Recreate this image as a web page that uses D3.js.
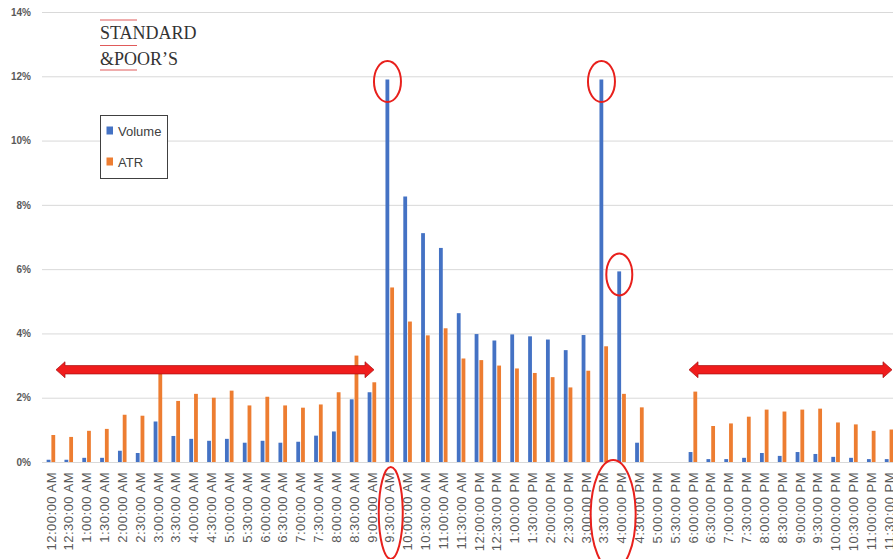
<!DOCTYPE html>
<html>
<head>
<meta charset="utf-8">
<script src="https://cdn.jsdelivr.net/npm/d3@7"></script>
<style>
  body { margin: 0; background: #fff; }
  svg { display: block; }
</style>
</head>
<body>
<div id="chart"></div>
<script>
// half hour slots over one day
var categories = [
  '12:00:00 AM', '12:30:00 AM', '1:00:00 AM', '1:30:00 AM', '2:00:00 AM', '2:30:00 AM',
  '3:00:00 AM', '3:30:00 AM', '4:00:00 AM', '4:30:00 AM', '5:00:00 AM', '5:30:00 AM',
  '6:00:00 AM', '6:30:00 AM', '7:00:00 AM', '7:30:00 AM', '8:00:00 AM', '8:30:00 AM',
  '9:00:00 AM', '9:30:00 AM', '10:00:00 AM', '10:30:00 AM', '11:00:00 AM', '11:30:00 AM',
  '12:00:00 PM', '12:30:00 PM', '1:00:00 PM', '1:30:00 PM', '2:00:00 PM', '2:30:00 PM',
  '3:00:00 PM', '3:30:00 PM', '4:00:00 PM', '4:30:00 PM', '5:00:00 PM', '5:30:00 PM',
  '6:00:00 PM', '6:30:00 PM', '7:00:00 PM', '7:30:00 PM', '8:00:00 PM', '8:30:00 PM',
  '9:00:00 PM', '9:30:00 PM', '10:00:00 PM', '10:30:00 PM', '11:00:00 PM', '11:30:00 PM'
]

// percent of daily total
var volume = [
  0.07, 0.07, 0.13, 0.13, 0.35, 0.28, 1.26, 0.81, 0.72, 0.66,
  0.72, 0.60, 0.66, 0.60, 0.63, 0.82, 0.95, 1.95, 2.17, 11.9,
  8.26, 7.12, 6.66, 4.63, 3.98, 3.78, 3.97, 3.91, 3.81, 3.48,
  3.95, 11.9, 5.93, 0.60, null, null, 0.31, 0.09, 0.09, 0.13,
  0.28, 0.19, 0.31, 0.25, 0.16, 0.13, 0.09, 0.09
]
var atr = [
  0.84, 0.78, 0.97, 1.03, 1.47, 1.44, 2.80, 1.90, 2.12, 2.00,
  2.22, 1.76, 2.03, 1.76, 1.69, 1.79, 2.17, 3.31, 2.48, 5.43,
  4.37, 3.94, 4.16, 3.22, 3.17, 3.00, 2.91, 2.77, 2.64, 2.32,
  2.84, 3.60, 2.12, 1.70, null, null, 2.19, 1.12, 1.20, 1.41,
  1.63, 1.57, 1.63, 1.66, 1.23, 1.17, 0.97, 1.01
]
var seriesNames = ['Volume', 'ATR']
var yTicks = [0, 2, 4, 6, 8, 10, 12, 14]

var width = 893
var height = 559
var colors = { 'Volume': '#4472c4', 'ATR': '#ed7d31' }

var svg = d3.select('#chart')
  .append('svg')
  .attr('width', width)
  .attr('height', height)

// the last slot runs past the right edge, as in the original picture
var x = d3.scaleBand()
  .domain(categories)
  .range([42, 898])
  .paddingInner(0.52)
  .paddingOuter(0.26)

var x1 = d3.scaleBand()
  .domain(seriesNames)
  .range([0, x.bandwidth()])
  .paddingInner(0.2)

var y = d3.scaleLinear()
  .domain([0, 14])
  .range([462, 12])

// gridlines
svg.append('g')
  .selectAll('line')
  .data(yTicks)
  .enter()
  .append('line')
  .attr('x1', 42)
  .attr('x2', width)
  .attr('y1', function (d) { return y(d) + 0.5 })
  .attr('y2', function (d) { return y(d) + 0.5 })
  .attr('stroke', '#d9d9d9')
  .attr('stroke-width', 1)

// y axis labels
var yAxis = d3.axisLeft(y)
  .tickValues(yTicks)
  .tickSize(0)
  .tickPadding(0)
  .tickFormat(function (d) { return d + '%' })

var gy = svg.append('g')
  .attr('transform', 'translate(31,0)')
  .call(yAxis)
gy.select('.domain').remove()
gy.selectAll('text')
  .attr('fill', '#595959')
  .style('font-family', 'Liberation Sans, Arial, sans-serif')
  .style('font-size', '10px')
  .style('font-weight', 'bold')

// x axis labels, rotated
var xAxis = d3.axisBottom(x).tickSize(0)
var gx = svg.append('g')
  .attr('transform', 'translate(0,' + y(0) + ')')
  .call(xAxis)
gx.select('.domain').remove()
gx.selectAll('text')
  .attr('transform', 'rotate(-90)')
  .attr('x', -10)
  .attr('y', 0)
  .attr('dy', '0.36em')
  .style('text-anchor', 'end')
  .attr('fill', '#595959')
  .style('font-family', 'Liberation Sans, Arial, sans-serif')
  .style('font-size', '13px')
  .style('letter-spacing', '0.5px')

// bars
var rows = categories.map(function (c, i) {
  return { cat: c, values: [{ key: 'Volume', value: volume[i] }, { key: 'ATR', value: atr[i] }] }
})

svg.append('g')
  .selectAll('g')
  .data(rows)
  .enter()
  .append('g')
  .attr('transform', function (d) { return 'translate(' + x(d.cat) + ',0)' })
  .selectAll('rect')
  .data(function (d) { return d.values.filter(function (v) { return v.value != null }) })
  .enter()
  .append('rect')
  .attr('x', function (d) { return x1(d.key) })
  .attr('width', x1.bandwidth())
  .attr('y', function (d) { return y(d.value) })
  .attr('height', function (d) { return y(0) - y(d.value) })
  .attr('fill', function (d) { return colors[d.key] })

// logo
var logo = svg.append('g').attr('transform', 'translate(100,0)')
logo.selectAll('line')
  .data([20, 45.5, 70])
  .enter()
  .append('line')
  .attr('x1', 0)
  .attr('x2', 37)
  .attr('y1', function (d) { return d })
  .attr('y2', function (d) { return d })
  .attr('stroke', '#e05a5a')
  .attr('stroke-width', 1)
logo.append('text')
  .attr('x', 0)
  .attr('y', 39)
  .text('STANDARD')
  .attr('fill', '#333')
  .style('font-family', 'Liberation Serif, Times New Roman, serif')
  .style('font-size', '18px')
logo.append('text')
  .attr('x', 0)
  .attr('y', 65)
  .text('&POOR\u2019S')
  .attr('fill', '#333')
  .style('font-family', 'Liberation Serif, Times New Roman, serif')
  .style('font-size', '18px')

// legend
var legend = svg.append('g').attr('transform', 'translate(100.5,115.5)')
legend.append('rect')
  .attr('width', 67)
  .attr('height', 63)
  .attr('fill', '#fff')
  .attr('stroke', '#404040')
  .attr('stroke-width', 1)
var items = legend.selectAll('.item')
  .data(seriesNames)
  .enter()
  .append('g')
  .attr('class', 'item')
  .attr('transform', function (d, i) { return 'translate(6,' + (11 + i * 31) + ')' })
items.append('rect')
  .attr('width', 6.5)
  .attr('height', 8)
  .attr('fill', function (d) { return colors[d] })
items.append('text')
  .attr('x', 11.5)
  .attr('y', 9.5)
  .text(function (d) { return d })
  .attr('fill', '#404040')
  .style('font-family', 'Liberation Sans, Arial, sans-serif')
  .style('font-size', '13px')

// red annotations
var red = '#e8201c'

function ellipse(cx, cy, rx, ry) {
  svg.append('ellipse')
    .attr('cx', cx)
    .attr('cy', cy)
    .attr('rx', rx)
    .attr('ry', ry)
    .attr('fill', 'none')
    .attr('stroke', red)
    .attr('stroke-width', 2)
}

function xc(cat) { return x(cat) + x.bandwidth() / 2 }

ellipse(x(categories[19]) + x1('Volume') + 2, y(11.9) + 2, 13.5, 20.5)
ellipse(x(categories[31]) + x1('Volume') + 2, y(11.9) + 2, 13.5, 20.5)
ellipse(x(categories[32]) + x1('Volume') + 2, y(5.93) + 3, 13, 21)
ellipse(xc(categories[19]) + 1, 513, 12, 46)
ellipse((xc(categories[31]) + xc(categories[32])) / 2 + 0.5, 515, 22.5, 55)

// double headed arrows
function arrow(xa, xb, yy) {
  var s = 4.2, h = 8, l = 9
  var pts = [
    [xa, yy], [xa + l, yy - h], [xa + l, yy - s], [xb - l, yy - s], [xb - l, yy - h],
    [xb, yy], [xb - l, yy + h], [xb - l, yy + s], [xa + l, yy + s], [xa + l, yy + h]
  ]
  svg.append('path')
    .attr('d', d3.line()(pts) + 'Z')
    .attr('fill', '#f01c1c')
    .attr('stroke', '#a81010')
    .attr('stroke-width', 0.7)
}

arrow(56, 374, y(2.87))
arrow(689, 892, y(2.87))
</script>
</body>
</html>
